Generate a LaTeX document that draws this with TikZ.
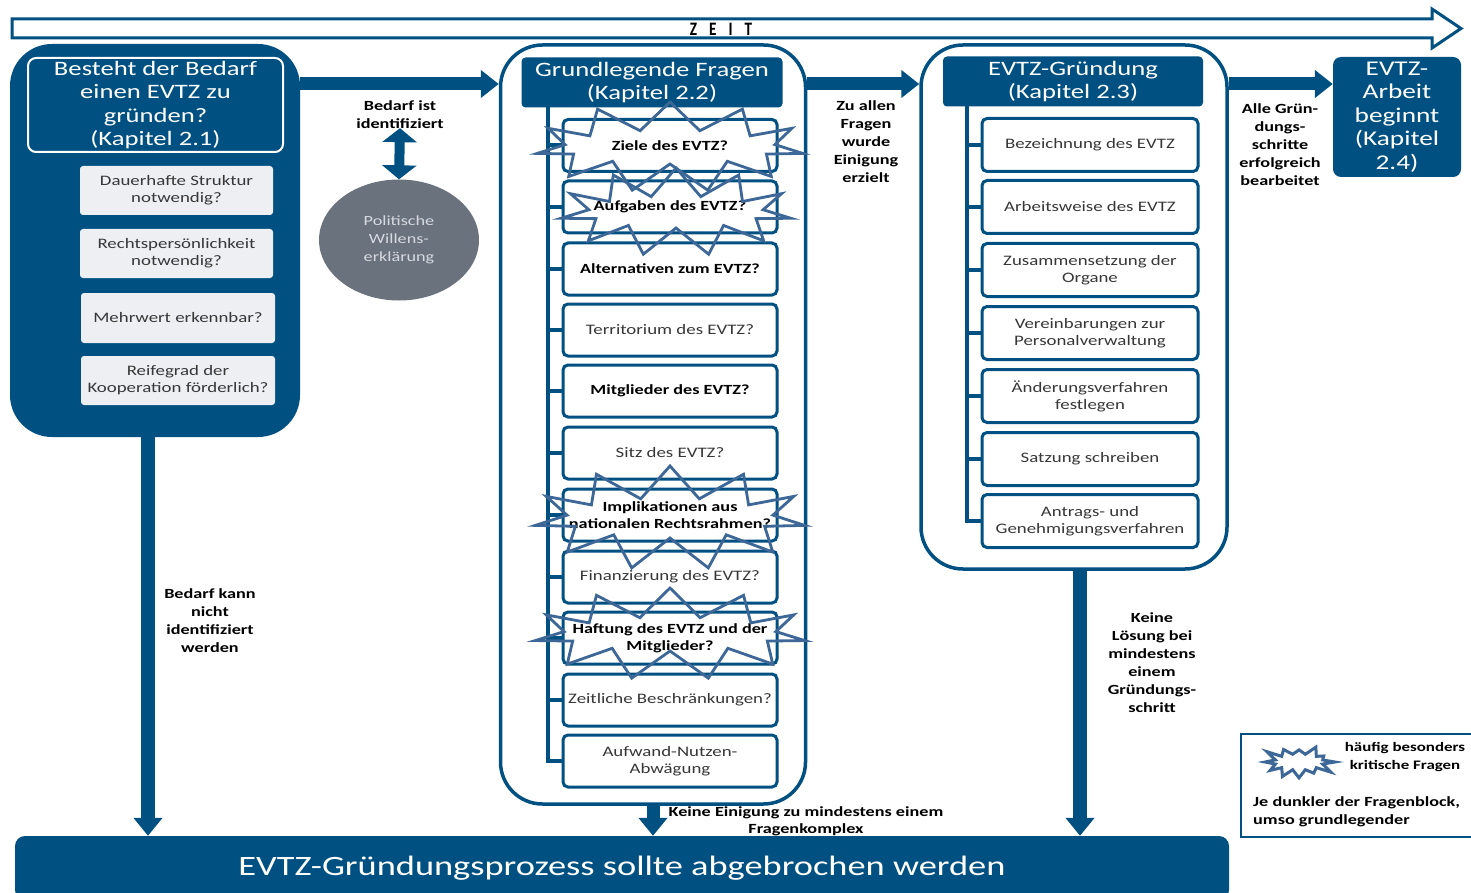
\documentclass[tikz,border=0pt]{standalone}
\usepackage{fontspec}
\setmainfont{Carlito}[FakeStretch=1.3]
\newfontfamily\zeitfont{Carlito}[FakeStretch=0.8]
\usetikzlibrary{arrows.meta,shapes.symbols,shapes.geometric,calc}
\definecolor{dkblue}{RGB}{0,80,130}
\definecolor{starc}{RGB}{60,103,150}
\definecolor{boxgrey}{RGB}{237,239,242}
\definecolor{elgrey}{RGB}{106,114,125}
\definecolor{eltext}{RGB}{214,218,224}
\definecolor{txtgrey}{RGB}{55,55,55}
\tikzset{
  panelfill/.style={rectangle, fill=dkblue, rounded corners=42pt, inner sep=0pt},
  paneloutline/.style={rectangle, draw=dkblue, line width=3.5pt, fill=white, rounded corners=42pt, inner sep=0pt},
  titlebox/.style={rectangle, fill=dkblue, rounded corners=4pt, text=white, font=\fontsize{20.5}{23.5}\selectfont, align=center, minimum width=260pt, minimum height=50pt, inner sep=0pt},
  greybox/.style={rectangle, fill=boxgrey, rounded corners=3pt, minimum width=193pt, minimum height=49pt, text=txtgrey, font=\fontsize{14.5}{17}\selectfont, align=center, inner sep=0pt},
  qbox/.style={rectangle, draw=dkblue, line width=3pt, fill=white, rounded corners=5pt, minimum width=214pt, minimum height=52pt, align=center, font=\fontsize{14.5}{17}\selectfont, text=txtgrey, inner sep=0pt},
  qboxb/.style={qbox, font=\fontsize{14}{17}\selectfont\bfseries, text=black},
  rbox/.style={qbox, minimum width=216pt, minimum height=53pt},
  lbl/.style={font=\fontsize{14}{18}\selectfont\bfseries, align=center, text=black, inner sep=0pt},
  bigarrow/.style={draw=dkblue, line width=13pt, -{Triangle[width=27pt,length=18pt]}},
  downarrow/.style={draw=dkblue, line width=14pt, -{Triangle[width=28pt,length=18pt]}},
  tree/.style={draw=dkblue, line width=4pt},
  burst/.style={starburst, draw=starc, line width=2.8pt, inner sep=0pt, line join=miter},
}
\begin{document}
\begin{tikzpicture}[x=1pt,y=-1pt]
\useasboundingbox (0,0) rectangle (1471,893);
\clip (0,0) rectangle (1471,893);
\fill[white] (0,0) rectangle (1471,893);

% time arrow
\draw[dkblue, line width=3pt, fill=white, line join=miter]
  (12,19) -- (1432,19) -- (1432,9) -- (1461,28.5) -- (1432,48) -- (1432,38) -- (12,38) -- cycle;
\node[font=\zeitfont\fontsize{19}{19}\selectfont\bfseries, inner sep=0pt] (zeit) at (721,29.5) {Z\hspace{12pt}E\hspace{12pt}I\hspace{12pt}T};

% panels
\node[panelfill, minimum width=290pt, minimum height=393pt] (lp) at (155,240.5) {};
\node[paneloutline, minimum width=305pt, minimum height=759pt] (mp) at (653,424.5) {};
\node[paneloutline, minimum width=306pt, minimum height=524pt] (rp) at (1074,307) {};

% left panel content
\node[draw=white, line width=2pt, rounded corners=8pt, minimum width=255pt, minimum height=94pt, inner sep=0pt,
      text=white, font=\fontsize{20.5}{23.5}\selectfont, align=center] (lt) at (155.5,105)
  {Besteht der Bedarf\\einen EVTZ zu\\gründen?\\(Kapitel 2.1)};
\node[greybox] (g1) at (176.5,190.5) {Dauerhafte Struktur\\notwendig?};
\node[greybox] (g2) at (176.5,253.5) {Rechtspersönlichkeit\\notwendig?};
\node[greybox, minimum width=194pt, minimum height=50pt] (g3) at (178,318) {Mehrwert erkennbar?};
\node[greybox, minimum width=194pt] (g4) at (178,380.5) {Reifegrad der\\Kooperation förderlich?};

% political will
\node[ellipse, fill=elgrey, minimum width=160pt, minimum height=121pt, inner sep=0pt, text=eltext,
      font=\fontsize{14}{18}\selectfont, align=center] (pw) at (399,240) {Politische\\Willens-\\erklärung};
\node[lbl] (bid) at (400,115) {Bedarf ist\\identifiziert};
\draw[dkblue, line width=10pt, {Triangle[width=34pt,length=14pt]}-{Triangle[width=34pt,length=14pt]}] (bid.south) ++(0,-1) -- (pw.north);

% middle panel content
\node[titlebox, minimum width=261pt] (mt) at (652,82.5) {Grundlegende Fragen\\(Kapitel 2.2)};
\node[qboxb] (m1) at (670,145.5) {Ziele des EVTZ?};
\node[qboxb] (m2) at (670,207) {Aufgaben des EVTZ?};
\node[qboxb] (m3) at (670,269) {Alternativen zum EVTZ?};
\node[qbox] (m4) at (670,330) {Territorium des EVTZ?};
\node[qboxb] (m5) at (670,391) {Mitglieder des EVTZ?};
\node[qbox] (m6) at (670,453) {Sitz des EVTZ?};
\node[qboxb] (m7) at (670,515) {Implikationen aus\\nationalen Rechtsrahmen?};
\node[qbox] (m8) at (670,577) {Finanzierung des EVTZ?};
\node[qboxb] (m9) at (670,638) {Haftung des EVTZ und der\\Mitglieder?};
\node[qbox] (m10) at (670,700) {Zeitliche Beschränkungen?};
\node[qbox] (m11) at (670,761) {Aufwand-Nutzen-\\Abwägung};
\coordinate (mtop) at (548,107);
\draw[tree] (mtop) |- (m11.west);
\foreach \i in {1,...,10} { \draw[tree] (mtop |- m\i.west) -- (m\i.west); }

% critical-question bursts
\node[burst, starburst points=11, starburst point height=28pt, random starburst=0, minimum width=268pt, minimum height=90pt, shape border rotate=8] (s1) at (670,147) {};
\node[burst, starburst points=11, starburst point height=28pt, random starburst=0, minimum width=232pt, minimum height=88pt, shape border rotate=20] (s2) at (676,212) {};
\node[burst, starburst points=11, starburst point height=32pt, random starburst=0, minimum width=272pt, minimum height=104pt, shape border rotate=12] (s3) at (670,518) {};
\node[burst, starburst points=11, starburst point height=29pt, random starburst=0, minimum width=272pt, minimum height=92pt, shape border rotate=12] (s4) at (670,634) {};

% right panel content
\node[titlebox] (rt) at (1073,81.5) {EVTZ-Gründung\\(Kapitel 2.3)};
\node[rbox] (r1) at (1090,145) {Bezeichnung des EVTZ};
\node[rbox] (r2) at (1090,207) {Arbeitsweise des EVTZ};
\node[rbox] (r3) at (1090,270) {Zusammensetzung der\\Organe};
\node[rbox] (r4) at (1090,333) {Vereinbarungen zur\\Personalverwaltung};
\node[rbox] (r5) at (1090,396) {Änderungsverfahren\\festlegen};
\node[rbox] (r6) at (1090,459) {Satzung schreiben};
\node[rbox] (r7) at (1090,521) {Antrags- und\\Genehmigungsverfahren};
\coordinate (rtop) at (967,106);
\draw[tree] (rtop) |- (r7.west);
\foreach \i in {1,...,6} { \draw[tree] (rtop |- r\i.west) -- (r\i.west); }

% EVTZ-Arbeit
\node[rectangle, fill=dkblue, rounded corners=8pt, minimum width=128pt, minimum height=120pt, inner sep=0pt,
      text=white, font=\fontsize{21}{23.5}\selectfont, align=center] (arb) at (1397,117)
  {EVTZ-\\Arbeit\\beginnt\\(Kapitel\\2.4)};

% horizontal arrows
\coordinate (ay) at (0,84);
\draw[bigarrow] (lp.east |- ay) -- (mp.west |- ay);
\draw[bigarrow] (mp.east |- ay) -- (rp.west |- ay);
\draw[bigarrow] (rp.east |- ay) -- (arb.west |- ay);
\node[lbl] (zal) at (866,142) {Zu allen\\Fragen\\wurde\\Einigung\\erzielt};
\node[lbl] (agb) at (1280,144.5) {Alle Grün-\\dungs-\\schritte\\erfolgreich\\bearbeitet};

% bottom bar
\node[rectangle, fill=dkblue, rounded corners=10pt, minimum width=1214pt, minimum height=64pt, inner sep=0pt,
      text=white, font=\fontsize{28}{30}\selectfont] (bar) at (622,868) {EVTZ-Gründungsprozess sollte abgebrochen werden};

% down arrows
\coordinate (dl) at (148,0);
\coordinate (dr) at (1080,0);
\draw[downarrow] (lp.south -| dl) -- (bar.north -| dl);
\draw[downarrow, line width=13pt] (mp.south) -- (bar.north -| mp.south);
\draw[downarrow] (rp.south -| dr) -- (bar.north -| dr);
\node[lbl] (bkn) at (210,621) {Bedarf kann\\nicht\\identifiziert\\werden};
\node[lbl] (kl) at (1152,663) {Keine\\Lösung bei\\mindestens\\einem\\Gründungs-\\schritt};
\node[lbl, font=\fontsize{14}{17}\selectfont\bfseries] (ke) at (806,821.5) {Keine Einigung zu mindestens einem\\Fragenkomplex};

% legend
\node[rectangle, draw=dkblue, line width=1.5pt, minimum width=260pt, minimum height=103pt, anchor=north west, inner sep=0pt] (leg) at (1240,733) {};
\node[burst, starburst points=12, starburst point height=13pt, random starburst=3, line width=3pt, fill=white, minimum width=75pt, minimum height=42pt] (ls) at (1299,762) {};
\node[lbl, font=\fontsize{13}{18}\selectfont\bfseries] (lt1) at (1405,757) {häufig besonders\\kritische Fragen};
\node[lbl, align=left, anchor=west] (lt2) at (1253,812) {Je dunkler der Fragenblock,\\umso grundlegender};
\end{tikzpicture}
\end{document}
